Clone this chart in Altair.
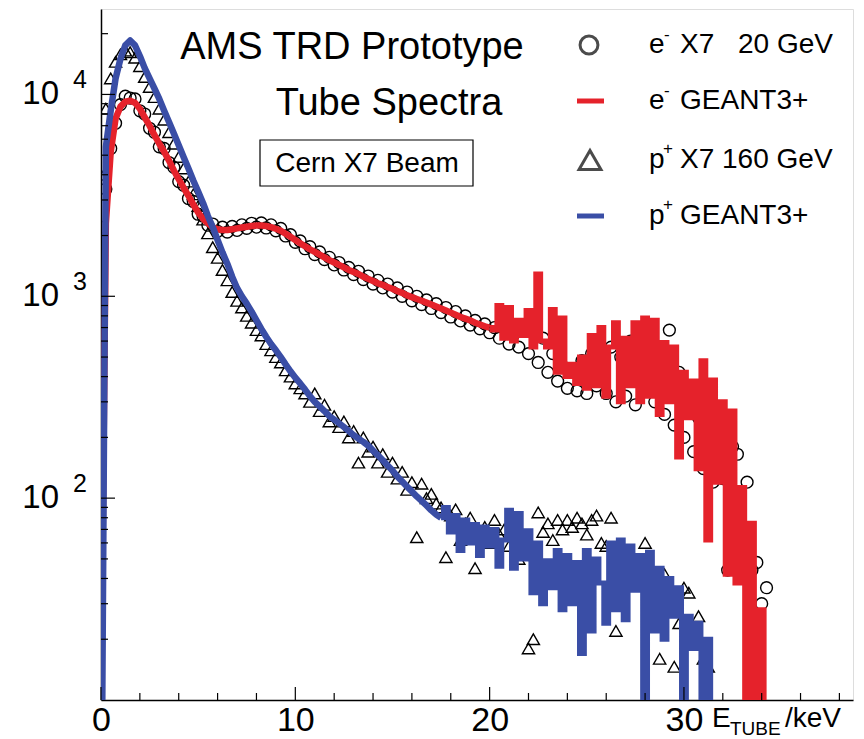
import altair as alt
import pandas as pd

BIN = 0.25  # keV bin width; bin i sits at E = i*BIN

# e- GEANT3+ simulation (red)
e_sim = [10, 2300, 5200, 7600, 8700, 9200, 9300, 9100, 8500, 7700,
         7000, 6300, 5700, 5200, 4700, 4200, 3800, 3450, 3150, 2850,
         2600, 2420, 2300, 2200, 2150, 2130, 2130, 2150, 2170, 2190,
         2210, 2230, 2240, 2240, 2230, 2200, 2160, 2110, 2040, 1970,
         1900, 1830, 1770, 1710, 1660, 1610, 1560, 1510, 1470, 1430,
         1390, 1350, 1320, 1290, 1250, 1220, 1190, 1160, 1140, 1110,
         1090, 1060, 1040, 1010, 990, 970, 950, 930, 910, 890,
         870, 850, 830, 810, 790, 775, 760, 740, 725, 710,
         700,
         680, 900, 620, 880, 600, 760, 640, 850, 560, 1290,
         600, 560, 860, 420, 780, 400, 460, 370, 500, 350,
         640, 360, 700, 320, 560, 740, 300, 620, 360, 740,
         300, 780, 320, 760, 260, 590, 300, 560, 160, 420,
         250, 380, 140, 480, 62, 385, 120, 300, 42, 270,
         38, 113, 1, 75, 1, 28, 1]
E_SMOOTH_END = 80   # index where the red simulation turns into a noisy histogram

# p+ GEANT3+ simulation (blue)
p_sim = [1, 5500, 8300, 12000, 15000, 17500, 18500, 17500, 15500, 13500,
         12000, 10700, 9500, 8300, 7300, 6400, 5600, 4900, 4300, 3750,
         3300, 2900, 2500, 2200, 1900, 1650, 1450, 1250, 1100, 1000,
         920, 840, 760, 690, 630, 580, 540, 500, 460, 425,
         395, 370, 345, 320, 300, 285, 270, 255, 245, 235,
         225, 215, 205, 197, 190, 182, 172, 163, 154, 145,
         137, 128, 121, 114, 108, 102, 97, 92, 87, 83,
         80, 90, 68, 82, 55, 78, 60, 74, 52, 72,
         58, 70, 46, 62, 87, 45, 84, 50, 69, 34,
         60, 30, 49, 36, 55, 28, 52, 30, 48, 17,
         55, 22, 50, 38, 24, 60, 28, 62, 25, 58,
         35, 52, 1, 54, 22, 45, 20, 40, 26, 36,
         1, 26, 18, 24, 1, 20, 1]
P_SMOOTH_END = 70

# e- X7 20 GeV measured (circles)
e_data = [2200, 3400, 5400, 7200, 8900, 9800, 9600, 9500, 8300, 8000,
          6800, 6500, 5500, 5400, 4600, 4350, 3700, 3550, 3050, 2950,
          2550, 2500, 2250, 2280, 2100, 2200, 2080, 2220, 2120, 2260,
          2170, 2300, 2200, 2310, 2180, 2260, 2110, 2170, 1990, 2020,
          1850, 1880, 1720, 1760, 1610, 1660, 1520, 1560, 1430, 1470,
          1350, 1390, 1280, 1330, 1210, 1260, 1150, 1200, 1100, 1150,
          1050, 1100, 1000, 1050, 950, 1000, 910, 960, 870, 920,
          830, 880, 790, 840, 755, 800, 720, 760, 690, 730,
          660, 700, 620, 720, 580, 650, 560, 680, 520, 760,
          470, 620, 420, 520, 380, 450, 350, 420, 340, 480,
          330, 520, 360, 440, 330, 560, 300, 500, 320, 600,
          290, 620, 350, 540, 300, 480, 260, 680, 230, 420,
          200, 360, 170, 250, 140, 300, 120, 220, 125, 44,
          180, 165, 60, 120, 44, 48, 30, 36]

# p+ X7 160 GeV measured (triangles)
p_data = [4000, 8500, 12000, 14500, 15800, 16500, 16200, 15200, 13800, 12200,
          10900, 9700, 8500, 7500, 6500, 5700, 4900, 4300, 3700, 3200,
          2800, 2400, 2050, 1750, 1550, 1350, 1200, 1050, 950, 880,
          800, 740, 680, 640, 580, 540, 500, 470, 430, 400,
          370, 350, 330, 300, 330, 270, 290, 240, 255, 225,
          240, 200, 215, 150, 200, 170, 180, 150, 165, 135,
          150, 125, 135, 110, 120, 64, 118, 100, 105, 94,
          90, 51, 82, 88, 62, 75, 80, 45, 68, 72,
          60, 78, 66, 70, 58, 72, 50, 64, 18, 20,
          85, 68, 75, 62, 78, 70, 78, 72, 80, 75,
          66, 78, 82, 60, 58, 80, 22, 45, 40, 50,
          38, 44, 60, 35, 30, 16, 42, 28, 14.6, 24,
          36, 34, 20, 26, 16, 14.6]

x_labels = [0, 10, 20, 30]
x_minor = [2, 4, 6, 8, 12, 14, 16, 18, 22, 24, 26, 28, 32, 34, 36, 38]
y_major = [100, 1000, 10000]
y_exponents = ["2", "3", "4"]
y_minor = [20, 30, 40, 50, 60, 70, 80, 90,
           200, 300, 400, 500, 600, 700, 800, 900,
           2000, 3000, 4000, 5000, 6000, 7000, 8000, 9000, 20000]

FONT = "Liberation Sans"
RED = "#e5222b"
BLUE = "#3a4ea6"
W, H = 752, 691
NB = "\u00a0"


def frame(vals, a=0, b=None):
    df = pd.DataFrame({"E": [i * BIN for i in range(len(vals))], "N": vals})
    return df.iloc[a:b]


xs = alt.Scale(domain=[0, 38.7], nice=False, zero=False)
ys = alt.Scale(type="log", domain=[10, 26500], nice=False)
ax_x = alt.Axis(values=x_labels, title=None, grid=False, ticks=False,
                labelFontSize=34, labelFont=FONT, labelColor="black",
                domainColor="black", domainWidth=1.5, labelPadding=3,
                labelFlush=False, format="d")
ax_y = alt.Axis(title=None, grid=False, ticks=False, labels=False,
                domainColor="black", domainWidth=1.5)

X = lambda f="E": alt.X(f + ":Q", scale=xs, axis=ax_x)
Y = lambda f="N": alt.Y(f + ":Q", scale=ys, axis=ax_y)

circles = alt.Chart(frame(e_data)).mark_point(
    shape="circle", filled=False, color="black", size=140, strokeWidth=1.4,
    opacity=1, clip=True).encode(x=X(), y=Y())
triangles = alt.Chart(frame(p_data)).mark_point(
    shape="triangle-up", filled=False, color="black", size=150, strokeWidth=1.4,
    opacity=1, clip=True).encode(x=X(), y=Y())

red_smooth = alt.Chart(frame(e_sim, 0, E_SMOOTH_END + 1)).mark_line(
    color=RED, strokeWidth=6.5, interpolate="linear", strokeJoin="round",
    clip=True).encode(x=X(), y=Y())
red_tail = alt.Chart(frame(e_sim, E_SMOOTH_END)).mark_line(
    color=RED, strokeWidth=5, interpolate="step", clip=True).encode(x=X(), y=Y())
blue_smooth = alt.Chart(frame(p_sim, 0, P_SMOOTH_END + 1)).mark_line(
    color=BLUE, strokeWidth=6.5, interpolate="linear", strokeJoin="round",
    clip=True).encode(x=X(), y=Y())
blue_tail = alt.Chart(frame(p_sim, P_SMOOTH_END)).mark_line(
    color=BLUE, strokeWidth=5, interpolate="step", clip=True).encode(x=X(), y=Y())

# inward ticks
xmaj = alt.Chart(pd.DataFrame({"t": x_labels})).mark_rule(color="black", strokeWidth=1.2).encode(
    x=X("t"), y=alt.value(H), y2=alt.value(H - 13))
xmin = alt.Chart(pd.DataFrame({"t": x_minor})).mark_rule(color="black", strokeWidth=1.2).encode(
    x=X("t"), y=alt.value(H), y2=alt.value(H - 7))
ymaj = alt.Chart(pd.DataFrame({"t": y_major})).mark_rule(color="black", strokeWidth=1.2).encode(
    y=Y("t"), x=alt.value(0), x2=alt.value(14))
ymin = alt.Chart(pd.DataFrame({"t": y_minor})).mark_rule(color="black", strokeWidth=1.2).encode(
    y=Y("t"), x=alt.value(0), x2=alt.value(7))

ylab_df = pd.DataFrame({"v": y_major, "e": y_exponents})
ylab = alt.Chart(ylab_df).mark_text(align="right", baseline="middle", fontSize=33,
                                    font=FONT, color="black", dy=0).encode(
    y=Y("v"), x=alt.value(-42), text=alt.value("10"))
yexp = alt.Chart(ylab_df).mark_text(align="left", baseline="middle", fontSize=25,
                                    font=FONT, color="black", dy=-14).encode(
    y=Y("v"), x=alt.value(-28), text="e:N")

one = pd.DataFrame({"a": [0]})


def txt(s, x, y, size, align="left", baseline="middle"):
    return alt.Chart(one).mark_text(align=align, baseline=baseline, fontSize=size,
                                    font=FONT, color="black").encode(
        x=alt.value(x), y=alt.value(y), text=alt.value(s))


title1 = txt("AMS TRD Prototype", 251, 39, 38, align="center")
title2 = txt("Tube Spectra", 288, 95, 38, align="center")
box = alt.Chart(one).mark_rect(fill="white", stroke="black", strokeWidth=1.2).encode(
    x=alt.value(159), x2=alt.value(372), y=alt.value(131), y2=alt.value(177))
box_t = txt("Cern X7 Beam", 266, 155, 28, align="center")

# legend
R1, R2, R3, R4 = 36, 92, 151, 207
leg_c = alt.Chart(one).mark_point(shape="circle", filled=False, color="black",
                                  size=320, strokeWidth=3).encode(
    x=alt.value(488), y=alt.value(R1))
leg_r = alt.Chart(one).mark_rule(color=RED, strokeWidth=5).encode(
    x=alt.value(476), x2=alt.value(503), y=alt.value(R2))
leg_t = alt.Chart(one).mark_point(shape="triangle-up", filled=False, color="black",
                                  size=480, strokeWidth=3).encode(
    x=alt.value(489), y=alt.value(R3))
leg_b = alt.Chart(one).mark_rule(color=BLUE, strokeWidth=5).encode(
    x=alt.value(476), x2=alt.value(503), y=alt.value(R4))

LX = 548
TX = 579
leg_text = [
    txt("e", LX, R1, 28), txt("-", LX + 15, R1 - 10, 17), txt("X7", TX, R1, 28),
    txt("20" + NB + "GeV", 637, R1, 28),
    txt("e", LX, R2, 28), txt("-", LX + 15, R2 - 10, 17), txt("GEANT3+", TX, R2, 28),
    txt("p", LX, R3, 28), txt("+", LX + 14, R3 - 11, 17), txt("X7" + NB + "160" + NB + "GeV", TX, R3, 28),
    txt("p", LX, R4, 28), txt("+", LX + 14, R4 - 11, 17), txt("GEANT3+", TX, R4, 28),
]

xt = [txt("E", 611, H + 19, 28), txt("TUBE", 629, H + 29, 19), txt("/keV", 684, H + 19, 28)]

chart = alt.layer(
    circles, triangles, red_smooth, red_tail, blue_smooth, blue_tail,
    xmaj, xmin, ymaj, ymin, ylab, yexp,
    title1, title2, box, box_t,
    leg_c, leg_r, leg_t, leg_b, *leg_text, *xt,
).properties(
    width=W, height=H,
    autosize=alt.AutoSizeParams(type="none"),
    padding={"left": 101, "top": 9, "right": 11, "bottom": 39},
).configure_view(stroke="#444444", strokeWidth=1.2).configure(background="white")

chart.save("out.html", embed_options={"renderer": "svg", "actions": False})
